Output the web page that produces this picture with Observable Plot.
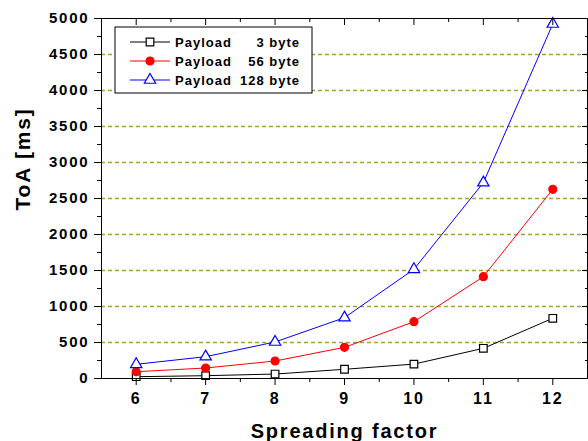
<!DOCTYPE html>
<html><head><meta charset="utf-8">
<script src="https://cdn.jsdelivr.net/npm/d3@7"></script>
<script src="https://cdn.jsdelivr.net/npm/@observablehq/plot@0.6"></script>
<style>
body{margin:0;background:#fff}
#chart{position:relative;width:588px;height:441px;overflow:hidden;background:#fff}
#chart text{font-weight:bold;letter-spacing:1.8px}
</style></head><body><div id="chart"></div>
<script>
// ---- data ----
const spreadingFactors = [6, 7, 8, 9, 10, 11, 12];
const toa3 = [25, 39, 62, 128, 200, 419, 836];
const toa56 = [94, 146, 243, 433, 789, 1414, 2628];
const toa128 = [197, 303, 507, 845, 1517, 2720, 4924];
const payloadWord = "Payload";
const seriesLabels = ["3 byte", "56 byte", "128 byte"];
const xTicks = [6, 7, 8, 9, 10, 11, 12];
const xMinorTicks = [6.5, 7.5, 8.5, 9.5, 10.5, 11.5];
const yTicks = [0, 500, 1000, 1500, 2000, 2500, 3000, 3500, 4000, 4500, 5000];
const yMinorTicks = [250, 750, 1250, 1750, 2250, 2750, 3250, 3750, 4250, 4750];
const gridTicks = [500, 1000, 1500, 2000, 2500, 3000, 3500, 4000, 4500];
const xTitle = "Spreading factor";
const yTitle = "ToA [ms]";

// ---- styles ----
const seriesValues = [toa3, toa56, toa128];
const styles = [
  {color: "#000000", symbol: "square", fill: "#ffffff", r: 4.3},
  {color: "#ff0000", symbol: "circle", fill: "#ff0000", r: 4},
  {color: "#0000ff", symbol: "triangle", fill: "#ffffff", r: 4.2}
];
const rows = seriesValues.map((vals, i) =>
  vals.map((v, j) => ({sf: spreadingFactors[j], toa: v, s: i})));

const marks = [
  Plot.ruleY(gridTicks, {stroke: "#a3a33c", strokeWidth: 1.4, strokeDasharray: "4,3"}),
];
rows.forEach((data, i) => {
  const st = styles[i];
  marks.push(Plot.line(data, {x: "sf", y: "toa", stroke: st.color, strokeWidth: 1}));
});
rows.forEach((data, i) => {
  const st = styles[i];
  marks.push(Plot.dot(data, {x: "sf", y: "toa", symbol: st.symbol, r: st.r, fill: st.fill, stroke: st.color, strokeWidth: 1.2}));
});
const fmt = d3.format("d");
marks.push(
  Plot.frame({stroke: "#000", strokeWidth: 1}),
  Plot.axisX(xTicks, {anchor: "bottom", tickSize: 7, tickPadding: 7, fontSize: 16, tickFormat: fmt, label: null}),
  Plot.axisX(xMinorTicks, {anchor: "bottom", tickSize: 4, text: null, label: null}),
  Plot.axisX(xTicks, {anchor: "top", tickSize: 6, dy: 6, text: null, label: null}),
  Plot.axisX(xMinorTicks, {anchor: "top", tickSize: 3, dy: 3, text: null, label: null}),
  Plot.axisY(yTicks, {anchor: "left", tickSize: 7, tickPadding: 5, fontSize: 15, tickFormat: fmt, label: null}),
  Plot.axisY(yMinorTicks, {anchor: "left", tickSize: 4, text: null, label: null}),
  Plot.axisY(yTicks, {anchor: "right", tickSize: 6, dx: -6, text: null, label: null}),
  Plot.axisY(yMinorTicks, {anchor: "right", tickSize: 3, dx: -3, text: null, label: null}),
  Plot.text([xTitle], {frameAnchor: "bottom", text: d => d, dy: 53, fontSize: 20, lineAnchor: "middle"}),
  Plot.text([yTitle], {frameAnchor: "left", text: d => d, dx: -78, dy: 12, rotate: -90, fontSize: 21, lineAnchor: "middle"})
);

const chart = Plot.plot({
  width: 588,
  height: 441,
  marginLeft: 101,
  marginRight: 1,
  marginTop: 18,
  marginBottom: 63,
  x: {domain: [5.5, 12.5]},
  y: {domain: [0, 5000]},
  style: {fontFamily: "'Liberation Sans', Arial, sans-serif", fontSize: "15px", color: "#000", background: "#fff"},
  marks
});
const host = document.getElementById("chart");
host.appendChild(chart);

// ---- legend (inside plot area, drawn as overlay) ----
const lg = d3.select(host).append("svg")
  .attr("width", 200).attr("height", 69)
  .style("position", "absolute").style("left", "114px").style("top", "26px");
lg.append("rect").attr("x", 1).attr("y", 1).attr("width", 197).attr("height", 66)
  .attr("fill", "#fff").attr("stroke", "#000").attr("stroke-width", 1);
const symMap = {square: d3.symbolSquare, circle: d3.symbolCircle, triangle: d3.symbolTriangle};
seriesLabels.forEach((lab, i) => {
  const st = styles[i];
  const cy = 16 + i * 19;
  lg.append("line").attr("x1", 16).attr("x2", 56).attr("y1", cy).attr("y2", cy)
    .attr("stroke", st.color).attr("stroke-width", 1);
  lg.append("path").attr("d", d3.symbol(symMap[st.symbol], Math.PI * st.r * st.r)())
    .attr("transform", `translate(36,${cy})`)
    .attr("fill", st.fill).attr("stroke", st.color).attr("stroke-width", 1.2);
  lg.append("text").attr("x", 61).attr("y", cy).attr("dy", "0.36em")
    .attr("font-family", "'Liberation Sans', Arial, sans-serif").attr("font-size", 13)
    .style("letter-spacing", "1px").style("font-weight", "bold").text(payloadWord);
  lg.append("text").attr("x", 186).attr("y", cy).attr("dy", "0.36em").attr("text-anchor", "end")
    .attr("font-family", "'Liberation Sans', Arial, sans-serif").attr("font-size", 13)
    .style("letter-spacing", "1px").style("font-weight", "bold").text(lab);
});
</script></body></html>
